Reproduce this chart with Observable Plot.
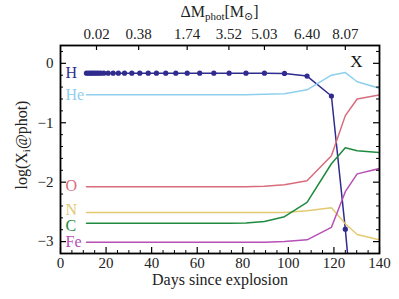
<!DOCTYPE html>
<html>
<head>
<meta charset="utf-8">
<script src="https://cdn.jsdelivr.net/npm/d3@7"></script>
<script src="https://cdn.jsdelivr.net/npm/@observablehq/plot@0.6"></script>
<style>
  html, body { margin: 0; padding: 0; background: #fff; }
  #chart svg { display: block; }
  #chart svg text { font-family: 'Liberation Serif', 'DejaVu Serif', serif; }
</style>
</head>
<body>
<div id="chart"></div>
<script>
// Epochs (days since explosion)
const days = [11.4, 12.3, 13.2, 14.0, 14.9, 15.8, 16.7, 17.7, 19.0, 20.9, 23.1, 25.4, 28.1, 31.3, 34.8, 38.5, 42.1, 46.2, 50.6,
              55.6, 61.1, 67.3, 74.0, 81.4, 89.5, 98.3, 108.2, 118.9, 125.0, 130.2, 140.0];

// log mass fractions at the photosphere
const H  = [-0.165, -0.165, -0.165, -0.165, -0.165, -0.165, -0.165, -0.165, -0.165, -0.165, -0.165, -0.165, -0.165, -0.165, -0.165, -0.165, -0.165, -0.165, -0.165,
            -0.165, -0.165, -0.165, -0.165, -0.165, -0.165, -0.17, -0.215, -0.55, -2.79, -5.0, null];
const He = [-0.53, -0.53, -0.53, -0.53, -0.53, -0.53, -0.53, -0.53, -0.53, -0.53, -0.53, -0.53, -0.53, -0.53, -0.53, -0.53, -0.53, -0.53, -0.53,
            -0.53, -0.53, -0.53, -0.53, -0.53, -0.52, -0.51, -0.445, -0.2, -0.155, -0.31, -0.42];
const O  = [-2.075, -2.075, -2.075, -2.075, -2.075, -2.075, -2.075, -2.075, -2.075, -2.075, -2.075, -2.075, -2.075, -2.075, -2.075, -2.075, -2.075, -2.075, -2.075,
            -2.075, -2.075, -2.075, -2.075, -2.075, -2.07, -2.045, -1.975, -1.555, -0.88, -0.6, -0.53];
const N  = [-2.51, -2.51, -2.51, -2.51, -2.51, -2.51, -2.51, -2.51, -2.51, -2.51, -2.51, -2.51, -2.51, -2.51, -2.51, -2.51, -2.51, -2.51, -2.51,
            -2.51, -2.51, -2.51, -2.51, -2.51, -2.51, -2.51, -2.48, -2.43, -2.70, -2.88, -2.97];
const C  = [-2.69, -2.69, -2.69, -2.69, -2.69, -2.69, -2.69, -2.69, -2.69, -2.69, -2.69, -2.69, -2.69, -2.69, -2.69, -2.69, -2.69, -2.69, -2.69,
            -2.69, -2.69, -2.69, -2.69, -2.685, -2.66, -2.58, -2.34, -1.69, -1.42, -1.47, -1.50];
const Fe = [-3.01, -3.01, -3.01, -3.01, -3.01, -3.01, -3.01, -3.01, -3.01, -3.01, -3.01, -3.01, -3.01, -3.01, -3.01, -3.01, -3.01, -3.01, -3.01,
            -3.01, -3.01, -3.01, -3.01, -3.01, -3.01, -3.0, -2.97, -2.76, -2.16, -1.86, -1.77];

const elements = ["H", "He", "O", "N", "C", "Fe"];
const colors = ["#302b8e", "#8fcfee", "#d86c7c", "#e3c970", "#1f8a3e", "#b64fb6"];
const labelY = [-0.165, -0.53, -2.07, -2.47, -2.73, -3.0];

// Top axis: photospheric mass coordinate at selected epochs
const topTickDays = [15.8, 34.3, 55.6, 73.9, 89.5, 108.2, 125.0];
const topTickLabels = ["0.02", "0.38", "1.74", "3.52", "5.03", "6.40", "8.07"];

const xMajor = [0, 20, 40, 60, 80, 100, 120, 140];
const xMinor = [5, 10, 15, 25, 30, 35, 45, 50, 55, 65, 70, 75, 85, 90, 95, 105, 110, 115, 125, 130, 135];
const yMajor = [0, -1, -2, -3];
const yMinor = [0.2, -0.2, -0.4, -0.6, -0.8, -1.2, -1.4, -1.6, -1.8, -2.2, -2.4, -2.6, -2.8, -3.2];

const series = {H, He, O, N, C, Fe};
const rows = [];
elements.forEach(el => days.forEach((d, i) => rows.push({el, day: d, v: series[el][i]})));
const hRows = rows.filter(r => r.el === "H" && r.v != null);
const labels = elements.map((el, i) => ({el, x: 2.2, y: labelY[i], c: colors[i]}));

const W = 399, Hh = 299, mt = 45, mb = 46, ml = 60, mr = 20;
const ph = Hh - mt - mb, pw = W - ml - mr;
const ff = "'Liberation Serif', 'DejaVu Serif', serif";

const chart = Plot.plot({
  width: W, height: Hh,
  marginTop: mt, marginBottom: mb, marginLeft: ml, marginRight: mr,
  style: {fontFamily: ff, fontSize: "15px", background: "#fff", color: "#222"},
  x: {domain: [0, 140]},
  y: {domain: [-3.2, 0.3]},
  color: {domain: elements, range: colors},
  marks: [
    Plot.line(rows, {x: "day", y: "v", z: "el", stroke: "el", strokeWidth: 1.5, clip: true}),
    Plot.dot(hRows, {x: "day", y: "v", fill: colors[0], r: 2.6, clip: true}),
    Plot.text(labels, {x: "x", y: "y", text: "el", fill: "c", textAnchor: "start", fontSize: 16, fontFamily: ff}),
    // bottom ticks (inward)
    Plot.tickX(xMajor, {x: d => d, insetTop: ph - 6, stroke: "#000", strokeWidth: 1.2}),
    Plot.tickX(xMinor, {x: d => d, insetTop: ph - 3, stroke: "#000", strokeWidth: 1}),
    // top ticks (inward)
    Plot.tickX(topTickDays, {x: d => d, insetBottom: ph - 5, stroke: "#000", strokeWidth: 1.2}),
    // left & right ticks (inward)
    Plot.tickY(yMajor, {y: d => d, insetRight: pw - 6, stroke: "#000", strokeWidth: 1.2}),
    Plot.tickY(yMinor, {y: d => d, insetRight: pw - 3, stroke: "#000", strokeWidth: 1}),
    Plot.tickY(yMajor, {y: d => d, insetLeft: pw - 6, stroke: "#000", strokeWidth: 1.2}),
    Plot.tickY(yMinor, {y: d => d, insetLeft: pw - 3, stroke: "#000", strokeWidth: 1}),
    Plot.axisX({ticks: xMajor, tickSize: 0, tickPadding: 4, label: null, fontSize: 15, fontFamily: ff, fontVariant: "normal", tickFormat: d => String(d)}),
    Plot.axisX({anchor: "top", ticks: topTickDays, tickSize: 0, tickPadding: 7, fontFamily: ff, fontVariant: "normal",
                tickFormat: d => topTickLabels[topTickDays.indexOf(d)], label: null, fontSize: 15}),
    Plot.axisY({ticks: yMajor, tickSize: 0, tickPadding: 7, label: null, fontSize: 15, fontFamily: ff, fontVariant: "normal",
                tickFormat: d => d === 0 ? "0" : "\u2212" + Math.abs(d)}),
    Plot.text(["Days since explosion"], {frameAnchor: "bottom", dy: 31, fontSize: 16, fill: "#222", fontFamily: ff}),
    Plot.text(["X"], {frameAnchor: "top-right", dx: -23, dy: 16, textAnchor: "middle", lineAnchor: "middle", fontSize: 17, fill: "#111", fontFamily: ff}),
    Plot.frame({stroke: "#000", strokeWidth: 1.8})
  ]
});

document.getElementById("chart").appendChild(chart);

// Labels with subscripts
const svg = d3.select(chart);
const t = svg.append("text")
  .attr("x", ml + pw / 2).attr("y", 17)
  .attr("text-anchor", "middle").attr("font-family", ff).attr("font-size", 16).attr("fill", "#222");
t.append("tspan").text("ΔM");
t.append("tspan").attr("font-size", 11).attr("dy", 3).text("phot");
t.append("tspan").attr("dy", -3).text("[M");
t.append("tspan").attr("font-size", 11).attr("dy", 3).text("⊙");
t.append("tspan").attr("dy", -3).text("]");

const yl = svg.append("text")
  .attr("transform", `translate(27,${mt + ph / 2 - 4}) rotate(-90)`)
  .attr("text-anchor", "middle").attr("font-family", ff).attr("font-size", 16).attr("fill", "#222");
yl.append("tspan").text("log(X");
yl.append("tspan").attr("font-size", 11).attr("dy", 3).text("i");
yl.append("tspan").attr("dy", -3).text("@phot)");
</script>
</body>
</html>
